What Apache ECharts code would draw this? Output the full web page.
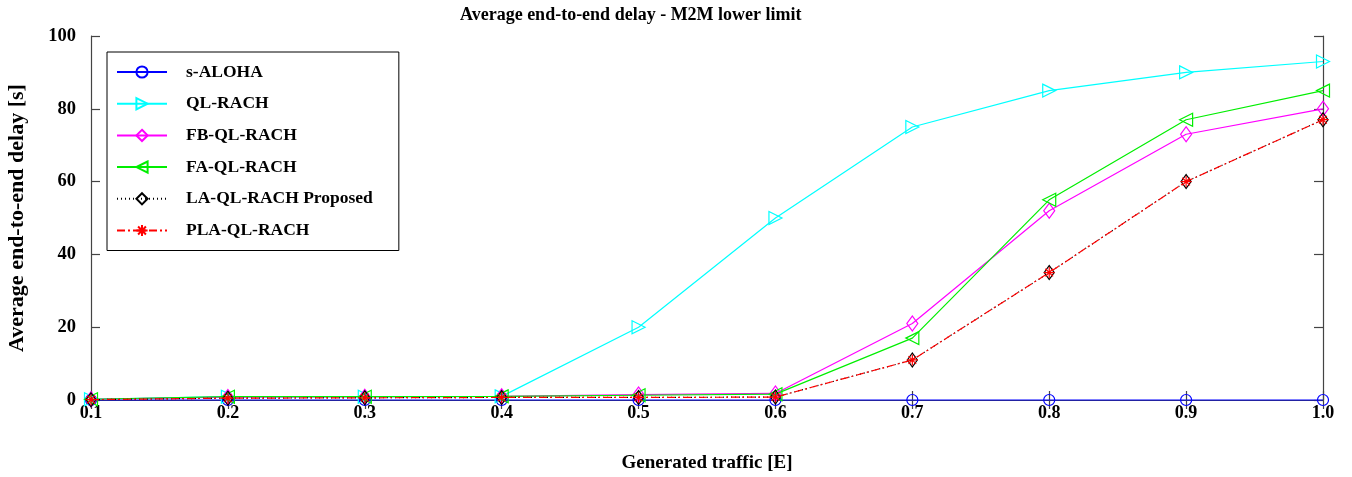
<!DOCTYPE html>
<html>
<head>
<meta charset="utf-8">
<script src="https://cdn.jsdelivr.net/npm/echarts@6/dist/echarts.min.js"></script>
<style>
html,body{margin:0;padding:0;background:#fff;}
#chart{width:1352px;height:477px;}
</style>
</head>
<body>
<div id="chart"></div>
<script>
var traffic = [0.1, 0.2, 0.3, 0.4, 0.5, 0.6, 0.7, 0.8, 0.9, 1.0];
var sAloha = [0, 0, 0, 0, 0, 0, 0, 0, 0, 0];
var qlRach = [0.2, 0.9, 0.9, 1.0, 20, 50, 75, 85, 90, 93];
var fbQlRach = [0.2, 0.8, 0.9, 1.0, 1.5, 1.8, 21, 52, 73, 80];
var faQlRach = [0.2, 0.9, 0.9, 1.0, 1.3, 1.6, 17, 55, 77, 85];
var laQlRach = [0.1, 0.5, 0.6, 0.7, 0.7, 0.8, 11, 35, 60, 77];
var plaQlRach = [0.1, 0.5, 0.6, 0.7, 0.7, 0.8, 11, 35, 60, 77];
var seriesNames = ['s-ALOHA', 'QL-RACH', 'FB-QL-RACH', 'FA-QL-RACH', 'LA-QL-RACH Proposed', 'PLA-QL-RACH'];
var yTicks = [0, 20, 40, 60, 80, 100];

function pairs(vals) { return traffic.map(function (x, i) { return [x, vals[i]]; }); }

var FONT = 'Liberation Serif';
var triRight = 'path://M0,0 L10,5 L0,10 Z';
var triLeft = 'path://M10,0 L0,5 L10,10 Z';
var asterisk = 'path://M5,0 L5,10 M0,5 L10,5 M1.5,1.5 L8.5,8.5 M8.5,1.5 L1.5,8.5';

function mk(name, vals, color, symbol, size, lineType, z) {
  return {
    name: name, type: 'line', data: pairs(vals),
    symbol: symbol, symbolSize: size, showSymbol: true,
    clip: false, z: z,
    lineStyle: { color: color, width: 1.2, type: lineType },
    itemStyle: { color: 'rgba(0,0,0,0)', borderColor: color, borderWidth: 1.2 },
    emphasis: { disabled: true },
    animation: false
  };
}

var chart = echarts.init(document.getElementById('chart'));
var axisLineStyle = { color: '#444', width: 1.2 };
chart.setOption({
  backgroundColor: '#fff',
  animation: false,
  title: {
    text: 'Average end-to-end delay - M2M lower limit',
    left: 455, top: 1,
    textStyle: { fontFamily: FONT, fontWeight: 'bold', fontSize: 18, color: '#000' }
  },
  legend: {
    orient: 'vertical', left: 107, top: 52,
    itemWidth: 50, itemHeight: 14, itemGap: 13.7,
    padding: [11, 26, 11, 9],
    borderColor: '#000', borderWidth: 1, backgroundColor: '#fff',
    textStyle: { fontFamily: FONT, fontWeight: 'bold', fontSize: 17.5, color: '#000', padding: [0, 0, 0, 14] },
    data: seriesNames
  },
  grid: { left: 91, right: 29, top: 36, bottom: 77, outerBoundsMode: 'none', containLabel: false },
  xAxis: [{
    type: 'value', min: 0.1, max: 1.0, interval: 0.1,
    name: 'Generated traffic [E]', nameLocation: 'middle', nameGap: 54,
    nameTextStyle: { fontFamily: FONT, fontWeight: 'bold', fontSize: 19, color: '#000' },
    axisLine: { show: true, lineStyle: axisLineStyle },
    axisTick: { show: true, inside: true, length: 9, lineStyle: axisLineStyle },
    axisLabel: { fontFamily: FONT, fontWeight: 'bold', fontSize: 18, color: '#000', margin: 4,
      formatter: function (v) { return v.toFixed(1); } },
    splitLine: { show: false }
  }, {
    type: 'value', position: 'top', min: 0.1, max: 1.0, interval: 0.1,
    axisLine: { show: true, lineStyle: axisLineStyle },
    axisTick: { show: true, inside: true, length: 9, lineStyle: axisLineStyle },
    axisLabel: { show: false }, splitLine: { show: false }
  }],
  yAxis: [{
    type: 'value', min: 0, max: 100, interval: 20,
    name: 'Average end-to-end delay [s]', nameLocation: 'middle', nameGap: 63,
    nameTextStyle: { fontFamily: FONT, fontWeight: 'bold', fontSize: 22, color: '#000' },
    axisLine: { show: true, lineStyle: axisLineStyle },
    axisTick: { show: true, inside: true, length: 9, lineStyle: axisLineStyle },
    axisLabel: { fontFamily: FONT, fontWeight: 'bold', fontSize: 18.5, color: '#000', margin: 15,
      formatter: function (v) { return yTicks.indexOf(v) >= 0 ? String(v) : ''; } },
    splitLine: { show: false }
  }, {
    type: 'value', position: 'right', min: 0, max: 100, interval: 20,
    axisLine: { show: true, lineStyle: axisLineStyle },
    axisTick: { show: true, inside: true, length: 9, lineStyle: axisLineStyle },
    axisLabel: { show: false }, splitLine: { show: false }
  }],
  series: [
    mk(seriesNames[0], sAloha, '#0000ff', 'circle', 11, 'solid', 2),
    mk(seriesNames[1], qlRach, '#00ffff', triRight, 13, 'solid', 3),
    mk(seriesNames[2], fbQlRach, '#ff00ff', 'diamond', [11, 15], 'solid', 4),
    mk(seriesNames[3], faQlRach, '#00ee00', triLeft, 13, 'solid', 5),
    mk(seriesNames[4], laQlRach, '#000000', 'diamond', [10, 14], [1, 3], 6),
    mk(seriesNames[5], plaQlRach, '#ff0000', asterisk, 11, [8, 3, 2, 3], 7)
  ]
});
</script>
</body>
</html>
